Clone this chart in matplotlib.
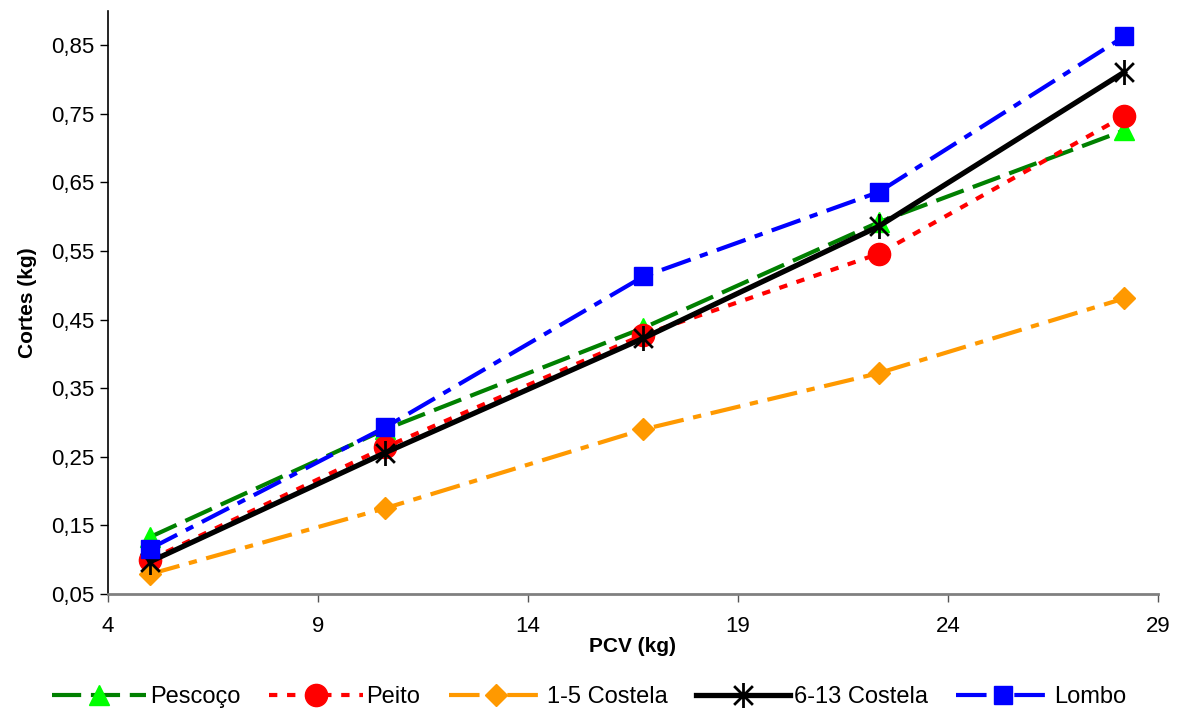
import matplotlib
matplotlib.use("Agg")
import matplotlib.pyplot as plt
from matplotlib.path import Path
from matplotlib.ticker import FixedLocator, FuncFormatter

plt.rcParams['font.family'] = ['Liberation Sans', 'DejaVu Sans']
plt.rcParams['lines.scale_dashes'] = False

pcv = [5.0, 10.6, 16.75, 22.35, 28.2]
series_names = ["Pescoço", "Peito", "1-5 Costela", "6-13 Costela", "Lombo"]
pescoco = [0.133, 0.290, 0.438, 0.592, 0.726]
peito = [0.100, 0.264, 0.428, 0.546, 0.747]
costela_1_5 = [0.079, 0.175, 0.290, 0.372, 0.481]
costela_6_13 = [0.097, 0.256, 0.423, 0.586, 0.811]
lombo = [0.116, 0.293, 0.513, 0.636, 0.863]
x_ticks = [4, 9, 14, 19, 24, 29]
y_ticks = [0.05, 0.15, 0.25, 0.35, 0.45, 0.55, 0.65, 0.75, 0.85]

star = Path([(0, -1), (0, 1), (-0.75, -0.75), (0.75, 0.75), (-0.75, 0.75), (0.75, -0.75)],
            [Path.MOVETO, Path.LINETO, Path.MOVETO, Path.LINETO, Path.MOVETO, Path.LINETO])

fig = plt.figure(figsize=(11.78, 7.11), dpi=100)
ax = fig.add_axes([0.0917, 0.1646, 0.8913, 0.8199])

styles = [
    dict(color="#008000", marker="^", mfc="#00FF00", mec="#00FF00", ms=14, dashes=(21, 7)),
    dict(color="#FF0000", marker="o", mfc="#FF0000", mec="#FF0000", ms=16, dashes=(6, 7)),
    dict(color="#FF9900", marker="D", mfc="#FF9900", mec="#FF9900", ms=11, dashes=(22, 7, 6, 7)),
    dict(color="#000000", marker=star, mfc="none", mec="#000000", ms=18, mew=2, dashes=None),
    dict(color="#0000FF", marker="s", mfc="#0000FF", mec="#0000FF", ms=13, dashes=(22, 7, 6, 7)),
]
data = [pescoco, peito, costela_1_5, costela_6_13, lombo]
for name, vals, st in zip(series_names, data, styles):
    st = dict(st)
    dashes = st.pop("dashes")
    lw = 3.8 if dashes is None else 3.0
    line, = ax.plot(pcv, vals, label=name, lw=lw, **st)
    if dashes is not None:
        line.set_dashes(dashes)

ax.set_xlim(4, 29)
ax.set_ylim(0.05, 0.9)
ax.xaxis.set_major_locator(FixedLocator(x_ticks))
ax.yaxis.set_major_locator(FixedLocator(y_ticks))
ax.yaxis.set_major_formatter(FuncFormatter(lambda v, p: f"{v:.2f}".replace(".", ",")))
ax.xaxis.set_major_formatter(FuncFormatter(lambda v, p: f"{v:g}"))

for s in ["top", "right"]:
    ax.spines[s].set_visible(False)
ax.spines["bottom"].set_color("#808080")
ax.spines["bottom"].set_linewidth(2)
ax.spines["left"].set_color("#000000")
ax.spines["left"].set_linewidth(1.2)
ax.tick_params(axis="x", colors="#555555", labelcolor="black", labelsize=16, length=6, width=1, pad=10)
ax.tick_params(axis="y", colors="black", labelsize=16, length=6, width=1, pad=4)

ax.set_xlabel("PCV (kg)", fontsize=15, fontweight="bold", labelpad=0)
ax.set_ylabel("Cortes (kg)", fontsize=15, fontweight="bold", labelpad=10)

fig.legend(loc="center", bbox_to_anchor=(0.5, 0.02), ncol=5, frameon=False,
           fontsize=17, handlelength=4.0, handletextpad=0.15, columnspacing=1.2,
           numpoints=1)

fig.savefig("out.png", dpi=100)
